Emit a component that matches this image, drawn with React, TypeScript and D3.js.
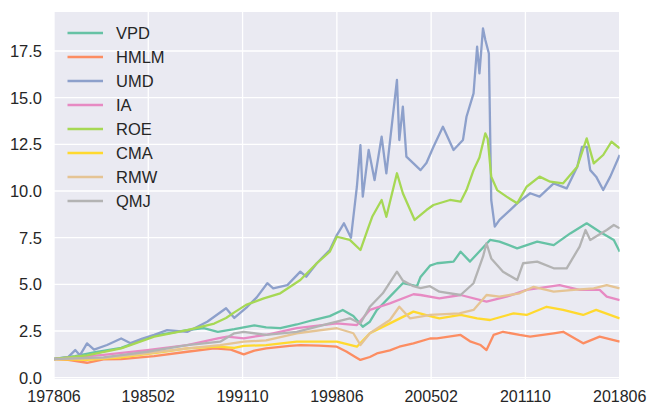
import React, { useEffect, useRef } from "react";
import * as d3 from "d3";

// months counted from 197806
const START_YEAR = 1978;
const START_MONTH = 6;
const LAST_MONTH = 480;

const xTickMonths = [0, 80, 160, 240, 320, 400, 480];
const yTickValues = [0, 2.5, 5, 7.5, 10, 12.5, 15, 17.5];

const seriesNames = ["VPD", "HMLM", "UMD", "IA", "ROE", "CMA", "RMW", "QMJ"];
const seriesColors = ["#66c2a5", "#fc8d62", "#8da0cb", "#e78ac3", "#a6d854", "#ffd92f", "#e5c494", "#b3b3b3"];

// [month index, cumulative value]
const vpd = [
  [0, 1.0], [18, 1.15], [34, 1.35], [57, 1.6], [85, 2.25], [113, 2.55], [127, 2.65], [139, 2.46],
  [153, 2.6], [170, 2.8], [180, 2.7], [192, 2.65], [206, 2.85], [220, 3.09], [234, 3.3], [245, 3.63],
  [254, 3.3], [262, 2.73], [268, 3.0], [274, 3.63], [285, 4.34], [296, 5.06], [308, 4.9], [311, 5.4],
  [319, 6.0], [325, 6.13], [339, 6.22], [345, 6.75], [353, 6.22], [370, 7.38], [378, 7.29], [393, 6.93],
  [410, 7.29], [424, 7.1], [438, 7.73], [452, 8.27], [463, 7.82], [475, 7.38], [480, 6.75],
];

const hmlm = [
  [0, 1.0], [12, 0.95], [28, 0.8], [42, 0.98], [57, 1.0], [85, 1.16], [113, 1.39], [136, 1.57],
  [150, 1.5], [161, 1.25], [170, 1.45], [180, 1.57], [200, 1.7], [209, 1.75], [225, 1.72], [240, 1.66],
  [248, 1.4], [256, 1.1], [260, 0.95], [268, 1.11], [274, 1.3], [285, 1.46], [293, 1.66], [305, 1.84],
  [319, 2.1], [325, 2.11], [345, 2.29], [353, 1.95], [362, 1.75], [367, 1.48], [373, 2.29], [381, 2.46],
  [395, 2.29], [404, 2.2], [424, 2.38], [432, 2.46], [449, 1.84], [463, 2.2], [480, 1.93],
];

const umd = [
  [0, 1.0], [12, 1.1], [18, 1.48], [22, 1.2], [28, 1.84], [34, 1.5], [45, 1.75], [57, 2.1],
  [65, 1.85], [75, 2.1], [85, 2.3], [96, 2.55], [113, 2.45], [130, 3.0], [146, 3.72], [153, 3.2],
  [164, 3.8], [172, 4.3], [181, 5.06], [186, 4.79], [198, 4.96], [209, 5.68], [214, 5.41], [223, 6.13],
  [234, 6.84], [240, 7.64], [246, 8.27], [252, 7.5], [257, 10.23], [260, 12.46], [262, 9.7], [267, 12.2],
  [272, 10.59], [278, 12.91], [282, 10.95], [291, 15.95], [293, 12.73], [296, 14.52], [299, 11.84], [311, 11.12],
  [316, 11.5], [322, 12.37], [330, 13.44], [339, 12.2], [347, 12.73], [350, 13.98], [356, 15.23], [359, 17.73],
  [361, 16.3], [364, 18.71], [366, 18.09], [369, 17.37], [371, 9.52], [374, 8.09], [378, 8.45], [387, 8.98],
  [393, 9.34], [404, 9.88], [412, 9.7], [424, 10.41], [435, 10.14], [444, 11.3], [448, 12.37], [452, 12.37],
  [455, 11.12], [460, 10.77], [466, 10.05], [472, 10.77], [480, 11.93],
];

const ia = [
  [0, 1.0], [42, 1.22], [79, 1.48], [113, 1.75], [139, 2.11], [147, 2.2], [161, 2.11], [180, 2.3],
  [206, 2.65], [240, 2.91], [257, 2.82], [268, 3.63], [285, 3.98], [305, 4.47], [311, 4.43], [327, 4.25],
  [345, 4.43], [367, 4.07], [384, 4.34], [401, 4.7], [429, 4.96], [446, 4.7], [463, 4.7], [469, 4.34],
  [480, 4.16],
];

const roe = [
  [0, 1.0], [28, 1.2], [57, 1.57], [85, 2.2], [113, 2.55], [136, 2.9], [146, 3.2], [153, 3.5],
  [163, 3.9], [178, 4.25], [192, 4.52], [209, 5.23], [223, 6.13], [234, 6.75], [240, 7.55], [251, 7.38],
  [260, 6.84], [267, 8.09], [270, 8.62], [278, 9.52], [282, 8.62], [291, 10.95], [296, 9.88], [306, 8.45],
  [316, 8.98], [322, 9.25], [336, 9.52], [345, 9.43], [350, 10.05], [356, 11.12], [361, 11.8], [366, 13.09],
  [368, 12.8], [371, 10.77], [376, 10.05], [384, 9.7], [393, 9.34], [401, 10.23], [412, 10.77], [421, 10.5],
  [432, 10.41], [444, 11.3], [452, 12.82], [458, 11.48], [466, 11.93], [473, 12.64], [480, 12.29],
];

const cma = [
  [0, 1.0], [28, 0.95], [57, 1.09], [93, 1.39], [113, 1.57], [139, 1.66], [153, 1.6], [161, 1.7],
  [180, 1.75], [206, 1.93], [240, 1.93], [257, 1.66], [268, 2.38], [285, 2.91], [305, 3.54], [319, 3.3],
  [327, 3.18], [345, 3.36], [359, 3.18], [370, 3.09], [390, 3.45], [401, 3.36], [418, 3.8], [432, 3.63],
  [449, 3.36], [460, 3.63], [480, 3.18],
];

const rmw = [
  [0, 1.0], [42, 1.05], [79, 1.3], [113, 1.57], [141, 1.75], [161, 1.93], [180, 2.0], [206, 2.38],
  [240, 2.65], [254, 2.38], [260, 1.75], [268, 2.38], [285, 3.09], [293, 3.8], [302, 3.18], [311, 3.27],
  [319, 3.36], [344, 3.45], [356, 3.63], [367, 4.43], [378, 4.34], [395, 4.52], [407, 4.87], [424, 4.61],
  [441, 4.7], [458, 4.78], [469, 4.96], [480, 4.78],
];

const qmj = [
  [0, 1.0], [42, 1.09], [79, 1.39], [113, 1.75], [141, 1.93], [153, 2.38], [161, 2.46], [180, 2.29],
  [206, 2.46], [234, 2.91], [251, 3.18], [260, 2.9], [268, 3.8], [279, 4.52], [291, 5.68], [296, 5.2],
  [305, 4.9], [311, 4.8], [319, 4.9], [327, 4.61], [345, 4.43], [356, 5.06], [364, 6.48], [367, 7.2],
  [371, 6.39], [381, 5.68], [393, 5.23], [398, 6.13], [410, 6.22], [424, 5.86], [435, 5.86], [446, 7.02],
  [451, 7.91], [455, 7.38], [469, 7.91], [475, 8.18], [480, 8.0],
];

const seriesData = [vpd, hmlm, umd, ia, roe, cma, rmw, qmj];

function monthLabel(m: number) {
  const total = START_YEAR * 12 + (START_MONTH - 1) + m;
  const y = Math.floor(total / 12);
  const mo = (total % 12) + 1;
  return `${y}${String(mo).padStart(2, "0")}`;
}

export default function App() {
  const svgRef = useRef<SVGSVGElement>(null);

  useEffect(() => {
    const width = 649;
    const height = 406;
    const margin = { left: 54, right: 29.3, top: 12, bottom: 27 };
    const svg = d3.select(svgRef.current);
    svg.selectAll("*").remove();

    const x = d3.scaleLinear().domain([0, LAST_MONTH]).range([margin.left, width - margin.right]);
    const y = d3.scaleLinear().domain([-0.07, 19.59]).range([height - margin.bottom, margin.top]);
    const font = "'Liberation Sans', Arial, sans-serif";

    svg.append("rect")
      .attr("x", margin.left)
      .attr("y", margin.top)
      .attr("width", width - margin.left - margin.right)
      .attr("height", height - margin.top - margin.bottom)
      .attr("fill", "#eaeaf2");

    svg.append("clipPath").attr("id", "plot-clip")
      .append("rect")
      .attr("x", margin.left)
      .attr("y", margin.top)
      .attr("width", width - margin.left - margin.right)
      .attr("height", height - margin.top - margin.bottom);

    // grid
    svg.append("g").selectAll("line").data(xTickMonths).join("line")
      .attr("x1", (d) => x(d)).attr("x2", (d) => x(d))
      .attr("y1", margin.top).attr("y2", height - margin.bottom)
      .attr("stroke", "white").attr("stroke-width", 1.3);
    svg.append("g").selectAll("line").data(yTickValues).join("line")
      .attr("x1", margin.left).attr("x2", width - margin.right)
      .attr("y1", (d) => y(d)).attr("y2", (d) => y(d))
      .attr("stroke", "white").attr("stroke-width", 1.3);

    // tick labels
    svg.append("g").selectAll("text").data(xTickMonths).join("text")
      .attr("x", (d) => x(d)).attr("y", 402)
      .attr("text-anchor", "middle")
      .attr("font-family", font).attr("font-size", 16).attr("fill", "#262626")
      .text((d) => monthLabel(d));
    svg.append("g").selectAll("text").data(yTickValues).join("text")
      .attr("x", 42).attr("y", (d) => y(d))
      .attr("text-anchor", "end").attr("dominant-baseline", "central")
      .attr("font-family", font).attr("font-size", 16.5).attr("fill", "#262626")
      .text((d) => d3.format(".1f")(d));

    // lines
    const line = d3.line<number[]>().x((d) => x(d[0])).y((d) => y(d[1]));
    const g = svg.append("g").attr("clip-path", "url(#plot-clip)");
    seriesData.forEach((data, i) => {
      g.append("path")
        .datum(data)
        .attr("fill", "none")
        .attr("stroke", seriesColors[i])
        .attr("stroke-width", 2.3)
        .attr("stroke-linejoin", "round")
        .attr("d", line);
    });

    // legend
    const legend = svg.append("g");
    seriesNames.forEach((name, i) => {
      const ly = 33 + i * 24;
      legend.append("line")
        .attr("x1", 67.5).attr("x2", 103).attr("y1", ly).attr("y2", ly)
        .attr("stroke", seriesColors[i]).attr("stroke-width", 2.3);
      legend.append("text")
        .attr("x", 116).attr("y", ly).attr("dominant-baseline", "central")
        .attr("font-family", font).attr("font-size", 16.5).attr("fill", "#262626")
        .text(name);
    });
  }, []);

  return (
    <svg
      ref={svgRef}
      width={649}
      height={406}
      style={{ position: "absolute", left: 0, top: 0, background: "white" }}
    />
  );
}
